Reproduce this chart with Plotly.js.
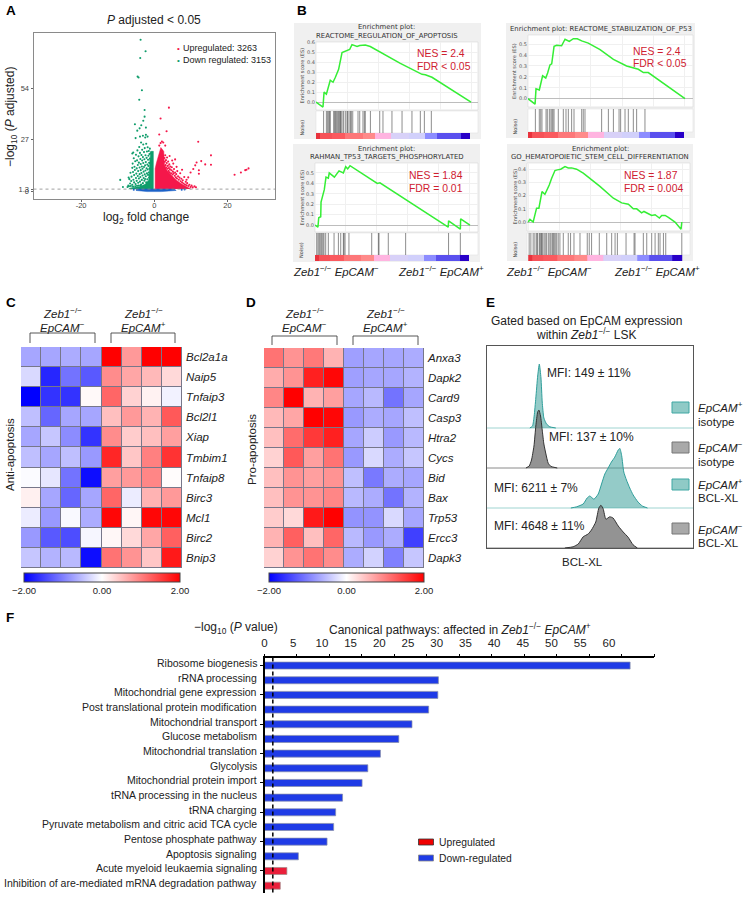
<!DOCTYPE html>
<html><head><meta charset="utf-8">
<script src="https://cdn.plot.ly/plotly-3.0.1.min.js"></script>
<style>html,body{margin:0;padding:0;background:#fff}#chart{width:748px;height:899px}</style>
</head><body><div id="chart"></div>
<script>
// ---------- Panel A data (log2FC, -log10 padj) ----------
const volcanoGreen = [[-3.73,79.2],[-2.37,73.2],[-3.83,69.7],[-4.55,60],[-4.28,59.5],[-3.37,52.9],[-4.1,47.9],[-2.64,42.6],[-2.64,39.1],[-3,37],[-5.28,35.1],[-3.55,34.6],[-4,33],[-4.64,31.8],[-2.28,33.4],[-2.28,29.6],[-3.1,29.1],[-1.82,28.7],[-5.1,27.9],[-3.9,28.7],[-2.46,28.2],[-5.74,20.4],[-6,19.9],[-9.3,6.1],[-8.56,2.4],[-7,7.3],
[-6.8,6.5],[-6.6,4.2],[-6.5,9.8],[-6.3,5.5],[-6.2,7.8],[-6,12.4],[-6,3.6],[-5.9,14.6],[-5.8,10.2],[-5.7,6.2],[-5.6,17.4],[-5.5,4.8],[-5.5,8.6],[-5.4,13],[-5.3,11.3],[-5.2,15.8],[-5.1,3.9],[-5,7.1],[-5,19.2],[-4.9,9.4],[-4.8,5.6],[-4.8,12.1],[-4.7,16.3],[-4.6,21.5],[-4.5,8.1],[-4.5,13.9],[-4.4,4.6],[-4.4,10.7],[-4.3,18.4],[-4.2,6.8],[-4.2,15.1],[-4.1,23.3],[-4,9.1],[-4,12.6],[-3.9,5.2],[-3.9,20.2],[-3.8,17],[-3.8,7.6],[-3.7,11.2],[-3.7,14.4],[-3.6,25.6],[-3.6,3.7],[-3.5,9.7],[-3.5,19.1],[-3.4,6.1],[-3.4,13.1],[-3.3,16.2],[-3.3,21.8],[-3.2,8.4],[-3.2,11.9],[-3.1,4.4],[-3.1,18],[-3,14.9],[-3,24.6],[-2.9,7.1],[-2.9,10.4],[-2.8,12.8],[-2.8,20.6],[-2.7,5.7],[-2.7,16.9],[-2.6,9],[-2.6,22.7],[-2.5,13.7],[-2.5,6.6],[-2.4,19],[-2.4,11],[-2.3,15.4],[-2.3,8],[-2.2,25],[-2.2,4.9],[-2.1,17.6],[-2.1,12.2],[-2,20.9],[-2,9.5],[-1.9,14.1],[-1.9,6.4],[-1.8,23.1],[-1.8,11.5],[-1.7,16.6],[-1.7,8.7],[-1.6,18.7],[-1.6,13.4],[-1.5,21.2],[-1.5,10],[-1.4,15],[-1.4,7.3],[-1.3,19.6],[-1.3,12],[-1.2,17.2],[-1.2,22.4],[-1.1,14.7],[-1,20],[-1,16.1],[-7.1,3.2],[-7.3,2.4],[-6.9,2.8],[-6.4,2.9],[-5.8,2.6],[-5.2,2.8],[-4.7,3],[-4.2,3.2],[-3.7,3.1]];
const volcanoRed = [[4.01,43.8],[1.73,38.1],[3.37,31.5],[1.37,29.8],[12.02,26],[2.09,26.1],[2.46,25.6],[1.73,25.3],[1.37,24],[3,24],[15.5,18.9],[15.5,14],[12.84,15.9],[11.57,15.2],[11.2,13.7],[13.93,14.2],[12.2,11.1],[12.2,9.3],[10.66,11.8],[9.93,10],[9.29,7.4],[8.83,6.2],[21.95,8.8],[23.68,10],[24.86,11.2],[25.2,11.4],[25.77,12.1],
[2.8,17.5],[2.9,15.6],[3,19],[3.1,13.8],[3.2,16.4],[3.3,12.6],[3.4,14.9],[3.5,17.8],[3.6,11.9],[3.7,13.4],[3.8,15.7],[3.9,10.8],[4,12.3],[4.1,14.2],[4.2,10.1],[4.3,11.6],[4.4,13.1],[4.6,9.6],[4.7,11.1],[4.8,12.7],[5,8.9],[5.1,10.4],[5.3,9.5],[5.4,11.8],[5.6,8.3],[5.7,10],[5.9,7.4],[6,9.1],[6.2,6.8],[6.3,10.7],[6.5,8],[6.7,6.2],[6.9,7.3],[7.1,9.6],[7.2,5.4],[7.4,6.7],[7.6,4.8],[7.8,5.9],[8,4.2],[8.2,7.6],[8.4,3.7],[8.6,5.1],[8.8,3.3],[9,4.4],[9.3,2.9],[9.6,3.6],[9.9,2.4],[10.2,3.1],[10.5,2.2],[11,2.7],[11.4,2.3],[5.2,14.6],[6.1,12.9],[7.6,11.4],[5.7,16.8],[4.9,16.2],[4.2,18.6]];
const volcanoGreenCore = [[-0.25,1.3],[-0.25,21],[-1,21],[-1.2,12],[-1.5,6],[-2.5,3.8],[-4,2.6],[-6.5,1.9],[-7,1.3]];
const volcanoRedCore = [[0.25,1.3],[0.25,12],[0.6,15],[1.2,19],[1.8,23],[2.6,21],[2.8,14],[3.5,11],[4.5,9],[6,6],[7.5,4],[9,2.5],[10,1.3]];
const volcanoBlueCore = [[-5,1.3],[5.5,1.3],[6,0.6],[2,0],[-2,0],[-5,0.6]];
const volcanoBlueExtra = [[7.5,1],[8.3,1.1],[-5.6,1]];

// ---------- Panel B data (rank % in ordered list, enrichment score) ----------
const es1Rank=[0,4.5,5.2,6.7,9.2,11,12.5,14.6,16.8,19.6,21.7,23.2,26.5,28.2,31.8,35,54.4,68.4,70.5,74.8,100];
const es1Val=[0,-0.05,0.10,0.08,0.22,0.20,0.25,0.33,0.50,0.52,0.53,0.58,0.56,0.57,0.575,0.56,0.39,0.28,0.275,0.25,0];
const es1Hits=[4.9,6.7,7.5,8.2,8.8,9.2,11.4,12,12.6,13.3,14,14.6,15.3,15.7,16.1,16.8,17.8,18.9,20,20.4,21.3,22.2,22.8,23.7,27.1,28.2,30.3,31.2,31.8,35.1,41.1,43.2,49,55.5,61.9,67.3,69.9,74.4];
const es2Rank=[0,4.5,5.1,7.2,9.3,11.3,12.5,14,15.1,16.6,18.3,21.4,23.6,26.3,28.9,31.4,34.2,38.4,45.9,54.4,62.8,67.1,70.3,73.5,76.6,100];
const es2Val=[0,-0.05,0.09,0.08,0.21,0.19,0.235,0.31,0.32,0.48,0.49,0.485,0.545,0.525,0.55,0.55,0.53,0.51,0.45,0.36,0.30,0.28,0.27,0.24,0.24,0];
const es2Hits=[4.7,7.2,8.1,8.9,11.5,12.3,13.6,14.6,15.3,15.9,16.6,19.3,22.5,24.2,25.7,27.8,29.3,34.2,35.2,36.3,46.9,51.2,54.4,58,59,61.8,63.9,67.1,69.2,74.5];
const es3Rank=[0,1.9,2.4,3.7,3.9,5.2,6,7.1,8.6,9.2,12.5,15.5,18.3,19.8,21.1,22.6,36.6,40.2,41.9,58.1,86,86.2,93.8,94,100];
const es3Val=[0,-0.02,0.07,0.08,0.22,0.28,0.34,0.46,0.45,0.50,0.46,0.52,0.50,0.56,0.54,0.57,0.44,0.40,0.405,0.25,-0.02,0.04,-0.04,0.06,0];
const es3Hits=[1.1,1.9,2.6,3.2,3.9,4.5,5.2,5.8,6.9,8.6,12.3,15.1,16.6,18.3,18.7,19.4,21.9,36.6,40.9,41.3,47.3,58.5,86.2,93.8];
const es4Rank=[0,1.1,3.2,4.3,5.4,6.9,8.9,10.8,11.9,13.6,15.1,17.3,18.8,21,23.8,25.9,28.1,31.3,35.6,46.4,55.1,60.5,64.8,68,70.2,73.4,74.9,77.8,79.9,82.1,84.9,86.4,88.6,90.7,95,98.9,99.4];
const es4Val=[0,0.02,0,0.045,0.105,0.105,0.23,0.21,0.235,0.28,0.33,0.39,0.395,0.40,0.42,0.41,0.41,0.40,0.37,0.27,0.18,0.145,0.135,0.10,0.10,0.07,0.08,0.06,0.05,0.055,0.03,0.05,0.05,0.035,0,-0.055,0];
const es4Hits=[0.6,1.7,3.2,4.3,5.4,6,7.1,7.6,8.2,8.6,9.3,10.2,11,11.9,13,14,14.7,15.6,16.2,16.8,17.5,18.4,19.4,20.5,22.7,25.9,27.4,29.6,33.5,38.2,39.5,41,46,50.8,54,56.2,57.7,63.3,68.5,69.1,74.5,76.7,79.9,82.1,84.2,85.3,87.5,89,99.4];
const rankEdges=[0,2.8,10,19,30,38.3,48.4,60,70.5,78,93.5,99.6];
const rankShade=[5,4.2,4,3.4,3,2,1.1,0.8,-1,-2,-3];
const esYTicks1=[0,0.1,0.2,0.3,0.4,0.5,0.6];
const esYTicks4=[0,0.1,0.2,0.3,0.4];

// ---------- Panels C, D data ----------
const genesC=['Bcl2a1a','Naip5','Tnfaip3','Bcl2l1','Xiap','Tmbim1','Tnfaip8','Birc3','Mcl1','Birc2','Bnip3'];
const heatC=[
[-0.7,-0.7,-0.65,-0.7,2,0.8,2,2],
[-0.3,-1.7,-1.1,-1.3,0.9,0.7,0.55,0.3],
[-2,-1.6,-1.6,0.05,1.2,0.35,0.1,-0.1],
[-0.5,-1.2,-0.7,-0.7,0.5,0.8,0.6,1.3],
[-0.7,-0.45,-0.9,-1.6,0.9,0.4,0.5,0.75],
[-0.5,-0.7,-0.5,-0.8,1.7,0.45,1,1.6],
[-0.03,-0.2,-1.1,-1.9,0.75,0.8,0.95,0.02],
[0.12,-0.7,-1.2,-0.7,1.2,-0.15,0.6,0.8],
[-0.15,-0.8,-0.05,-0.65,1.95,0.07,1.95,1.95],
[-0.8,-1.3,-1.4,-0.07,0.06,0.3,0.7,1.25],
[-0.45,-0.6,-0.55,-1.9,1.1,0.85,0.45,1.8]];
const genesD=['Anxa3','Dapk2','Card9','Casp3','Htra2','Cycs','Bid','Bax','Trp53','Ercc3','Dapk3'];
const heatD=[
[1.1,0.85,1.05,0.6,-0.75,-0.7,-0.7,-0.65],
[0.65,0.85,1.75,1.95,-0.75,-0.7,-0.7,-0.6],
[0.95,2,0.6,0.75,-0.7,-0.55,-1.1,-0.7],
[0.55,0.7,2,1.95,-0.8,-0.65,-0.7,-0.5],
[0.5,1.15,1.55,1.75,-0.7,-0.4,-0.8,-0.55],
[0.35,1.3,0.75,1.1,-0.8,-0.3,-0.65,-0.45],
[0.5,0.85,0.75,0.85,-0.5,-1.05,-0.65,-0.7],
[0.5,0.85,0.85,0.95,-0.55,-0.65,-1.1,-0.6],
[0.4,0.3,1.8,2,-0.85,-0.85,-0.3,-0.7],
[0.6,1.25,0.5,1.2,-0.55,-0.8,-0.65,-1.5],
[0.35,0.85,1.1,0.9,-0.65,-0.35,-1,-0.45]];
const heatScaleTicks=[-2,0,2];
const heatScaleLabels=['−2.00','0.00','2.00'];

// ---------- Panel E data (BCL-XL intensity %, density) ----------
const ridge1X=[20.8,22.1,22.9,23.7,24.6,25.4,26.2,26.8,27.6,28.9,30.5,33.4];
const ridge1D=[0,0.05,0.3,0.75,1.3,1.6,1.25,0.65,0.25,0.1,0.03,0];
const ridge2X=[18.9,20.5,21.6,22.8,23.7,24.6,25.2,26,26.8,27.6,28.6,29.7,31,34.1];
const ridge2D=[0,0.05,0.2,0.55,1.05,1.4,1.45,1.3,0.95,0.6,0.35,0.12,0.04,0];
const ridge3X=[40.7,43.5,46.7,48.6,49.9,51.9,54,55.6,57.2,58.8,60.4,62,63.7,64.5,65.4,66.4,67.7,69.3,70.9,73.3,75.4,77.9];
const ridge3D=[0,0.03,0.1,0.25,0.3,0.22,0.35,0.6,0.85,1,1.15,1.27,1.45,1.49,1.3,0.9,0.7,0.5,0.33,0.15,0.05,0];
const ridge4X=[37.8,41.8,44.3,46.7,49.1,50.7,52.8,54.3,55.3,56.4,57.7,59.6,61.2,63.7,66.1,68.5,70.9,73];
const ridge4D=[0,0.03,0.1,0.28,0.35,0.45,0.65,1,1.07,0.98,0.72,0.78,0.75,0.55,0.4,0.27,0.08,0];

// ---------- Panel F data ----------
const pathwaysDown=['Ribosome biogenesis','rRNA processing','Mitochondrial gene expression','Post translational protein modification','Mitochondrial transport','Glucose metabolism','Mitochondrial translation','Glycolysis','Mitochondrial protein import','tRNA processing in the nucleus','tRNA charging','Pyruvate metabolism and citric acid TCA cycle','Pentose phosphate pathway','Apoptosis signaling'];
const valuesDown=[63.7,30.3,30.2,28.6,25.7,23.4,20.2,18,17,13.6,12.4,12.05,10.9,5.9];
const pathwaysUp=['Acute myeloid leukaemia signaling','Inhibition of are-mediated mRNA degradation pathway'];
const valuesUp=[3.9,2.75];
const pThreshold=1.45;
const pTickVals=[0,5,10,15,20,25,30,35,40,45,50,55,60];
const pMinorMarks=[0,1,2,3,4,5,6,7,8,9,10,11,12];

// ---------- helpers ----------
const W=748,H=899,FONT='Liberation Sans',TXT='#222';
const px=x=>x/W, py=y=>1-y/H;
const dx=(a,b)=>[px(a),px(b)], dy=(a,b)=>[py(b),py(a)];
const traces=[],shapes=[],annotations=[],layout={};
function T(x,y,text,o={}){annotations.push({xref:'paper',yref:'paper',x:px(x),y:py(y),text,showarrow:false,xanchor:o.anchor||'left',yanchor:'middle',textangle:o.angle||0,borderpad:0,font:{family:o.family||FONT,size:o.size||11,color:o.color||TXT,weight:o.weight||400}});}
function rect(x0,y0,x1,y1,fill,line,w){shapes.push({type:'rect',xref:'paper',yref:'paper',layer:'below',x0:px(x0),x1:px(x1),y0:py(y0),y1:py(y1),fillcolor:fill,line:{color:line||fill,width:line?(w||1):0}});}
function bracket(x0,x1,yt,yb){shapes.push({type:'path',xref:'paper',yref:'paper',path:`M ${px(x0)} ${py(yb)} L ${px(x0)} ${py(yt)} L ${px(x1)} ${py(yt)} L ${px(x1)} ${py(yb)}`,line:{color:'#444',width:0.9}});}
const hidden={showgrid:false,zeroline:false,showticklabels:false,ticks:'',showline:false,fixedrange:true};
let ax=0;
function newAxes(xa,ya){ax++;const s=ax===1?'':ax;layout['xaxis'+s]=Object.assign({anchor:'y'+s},xa);layout['yaxis'+s]=Object.assign({anchor:'x'+s},ya);return {x:'x'+s,y:'y'+s,n:ax};}
const ZM='<i>Zeb1</i><sup>−/−</sup>', EM='<i>EpCAM</i><sup>−</sup>', EP='<i>EpCAM</i><sup>+</sup>';

// ---------- Panel A ----------
const A=newAxes({domain:dx(33.5,275),range:[-33,33],tickvals:[-20,0,20],ticktext:['-20','0','20'],ticks:'outside',ticklen:2,tickcolor:'#666',tickfont:{family:FONT,size:7.5,color:'#444'},ticklabelstandoff:-3,showgrid:false,zeroline:false,showline:true,mirror:true,linecolor:'#8a8a8a',linewidth:1},
 {domain:dy(32.5,198.5),range:[-3.6,83],tickvals:[0,1.3,27,54],ticktext:['0','1.3','27','54'],ticks:'outside',ticklen:2,tickcolor:'#666',tickfont:{family:FONT,size:7.5,color:'#444'},showgrid:false,zeroline:false,showline:true,mirror:true,linecolor:'#8a8a8a',linewidth:1});
const poly=(p,c)=>({x:p.map(d=>d[0]),y:p.map(d=>d[1]),mode:'lines',fill:'toself',fillcolor:c,line:{width:0.5,color:c},xaxis:A.x,yaxis:A.y,hoverinfo:'skip'});
const dots=(p,c)=>({x:p.map(d=>d[0]),y:p.map(d=>d[1]),mode:'markers',marker:{size:2.1,color:c,line:{width:0}},xaxis:A.x,yaxis:A.y,hoverinfo:'skip'});
const cGreen='#0f9d6b',cRed='#f5174a',cBlue='#1c62c8';
traces.push(poly(volcanoGreenCore,cGreen),dots(volcanoGreen,cGreen),poly(volcanoRedCore,cRed),dots(volcanoRed,cRed),poly(volcanoBlueCore,cBlue),dots(volcanoBlueExtra,cBlue));
shapes.push({type:'line',xref:'paper',yref:'y',x0:px(33.5),x1:px(275),y0:1.3,y1:1.3,line:{color:'#888',width:0.8,dash:'dot'}});
T(153.5,20,'<i>P</i> adjusted &lt; 0.05',{anchor:'center',size:12});
T(178,48.5,'•',{anchor:'center',size:8,color:cRed});T(178,60,'•',{anchor:'center',size:8,color:cGreen});
T(182,48.5,'Upregulated: 3263',{size:9});T(182,60,'Down regulated: 3153',{size:9});
T(146,218.5,'log<sub>2</sub> fold change',{anchor:'center',size:12});
T(11,117,'−log<sub>10</sub> (<i>P</i> adjusted)',{anchor:'center',angle:-90,size:12});
T(5,10,'A',{size:13.5,weight:700,color:'#000'});T(296,10,'B',{size:13.5,weight:700,color:'#000'});
T(5,302,'C',{size:13.5,weight:700,color:'#000'});T(245,302,'D',{size:13.5,weight:700,color:'#000'});
T(485,302,'E',{size:13.5,weight:700,color:'#000'});T(5,617,'F',{size:13.5,weight:700,color:'#000'});

// ---------- Panel B ----------
function gsea(g){
 rect(g.box[0],g.box[1],g.box[2],g.box[3],'#f0f0f0');
 rect(g.plot[0],g.plot[1],g.plot[2],g.plot[3],'#ffffff','#d8d8d8',0.6);
 rect(g.plot[0],g.rug[0],g.plot[2],g.rug[1],'#ffffff','#e2e2e2',0.6);
 const C=newAxes({domain:dx(g.plot[0],g.plot[2]),range:g.xr,showgrid:true,gridcolor:'#f0f0f0',gridwidth:1,dtick:20,zeroline:false,showticklabels:false,ticks:'',fixedrange:true},
  {domain:dy(g.plot[1],g.plot[3]),range:g.yr,tickvals:g.ticks,ticktext:g.ticks.map(v=>v.toFixed(1)),ticks:'',showgrid:true,gridcolor:'#f0f0f0',zeroline:true,zerolinecolor:'#bdbdbd',zerolinewidth:1,tickfont:{family:'DejaVu Sans',size:5,color:'#555'},ticklabelstandoff:0,fixedrange:true});
 traces.push({x:g.rank,y:g.es,mode:'lines',line:{color:'#35ee35',width:1.5},xaxis:C.x,yaxis:C.y,hoverinfo:'skip'});
 const R=newAxes(Object.assign({domain:dx(g.plot[0],g.plot[2]),range:g.xr},hidden),Object.assign({domain:dy(g.rug[0],g.rug[1]),range:[0,1]},hidden));
 const rx=[],ry=[];g.hits.forEach(h=>{rx.push(h,h,null);ry.push(0,1,null);});
 traces.push({x:rx,y:ry,mode:'lines',line:{color:'rgba(50,50,50,0.62)',width:0.9},xaxis:R.x,yaxis:R.y,hoverinfo:'skip'});
 const B=newAxes(Object.assign({domain:dx(g.plot[0],g.plot[2]),range:g.xr},hidden),Object.assign({domain:dy(g.rug[1],g.bar),range:[0,1]},hidden));
 traces.push({type:'heatmap',x:rankEdges,y:[0,1],z:[rankShade],zmin:-3,zmax:5,showscale:false,xaxis:B.x,yaxis:B.y,hoverinfo:'skip',
  colorscale:[[0,'#2800c8'],[0.125,'#5a50ee'],[0.25,'#8c8cff'],[0.375,'#c4c0fa'],[0.5,'#d4d4fb'],[0.625,'#ffb4e0'],[0.75,'#ff8a8a'],[0.875,'#fa5a5f'],[1,'#e8323c']]});
 g.title.forEach((t,i)=>T(g.tx,g.ty[i],t,{anchor:'center',family:'DejaVu Sans',size:6.9,color:'#333'}));
 T(g.yt,(g.plot[1]+g.plot[3])/2,'Enrichment score (ES)',{anchor:'center',angle:-90,family:'DejaVu Sans',size:5,color:'#444'});
 T(g.yt,(g.rug[0]+g.rug[1])/2+6,'Noise)',{anchor:'center',angle:-90,family:'DejaVu Sans',size:5,color:'#444'});
 T(g.nes[0],g.nes[1],g.nesT,{size:10.4,color:'#cf2030'});
 T(g.nes[0],g.nes[2],g.fdrT,{size:10.4,color:'#cf2030'});
}
gsea({box:[294,23,481,139],plot:[316,42,478,110],rug:[111,133],bar:139,xr:[0,104.5],yr:[-0.08,0.606],ticks:esYTicks1,rank:es1Rank,es:es1Val,hits:es1Hits,title:['Enrichment plot:','REACTOME_REGULATION_OF_APOPTOSIS'],tx:387,ty:[27.5,35.5],yt:301.5,nes:[416,53,66],nesT:'NES = 2.4',fdrT:'FDR &lt; 0.05'});
gsea({box:[506,23,695,138],plot:[528,35,693,107],rug:[109,132],bar:138,xr:[0,105.1],yr:[-0.076,0.584],ticks:esYTicks1.slice(0,6),rank:es2Rank,es:es2Val,hits:es2Hits,title:['Enrichment plot: REACTOME_STABILIZATION_OF_P53'],tx:601,ty:[28.5],yt:514,nes:[632,51,63.5],nesT:'NES = 2.4',fdrT:'FDR &lt; 0.05'});
gsea({box:[293,144,480,262],plot:[315,163,478,232],rug:[233,255],bar:261,xr:[0,105.2],yr:[-0.067,0.596],ticks:esYTicks1.slice(0,6),rank:es3Rank,es:es3Val,hits:es3Hits,title:['Enrichment plot:','RAHMAN_TP53_TARGETS_PHOSPHORYLATED'],tx:387,ty:[149,157],yt:301,nes:[408,175.5,188.5],nesT:'NES = 1.84',fdrT:'FDR = 0.01'});
gsea({box:[507,144,693,261],plot:[527,163,690,231],rug:[233,255],bar:261,xr:[-0.8,104.7],yr:[-0.068,0.447],ticks:esYTicks4,rank:es4Rank,es:es4Val,hits:es4Hits,title:['Enrichment plot:','GO_HEMATOPOIETIC_STEM_CELL_DIFFERENTIATION'],tx:600,ty:[149,157],yt:514.5,nes:[623,175.5,188.5],nesT:'NES = 1.87',fdrT:'FDR = 0.004'});
[[292,EM],[397,EP],[505,EM],[613,EP]].forEach(d=>T(d[0],271,ZM+' '+d[1],{size:11.4}));

// ---------- Panels C, D ----------
const rwb=[[0,'#0000ff'],[0.5,'#ffffff'],[1,'#ff0000']];
function heat(h){
 rect(h.box[0],h.box[1],h.box[2],h.box[3],'#77778a');
 const a=newAxes(Object.assign({domain:dx(h.box[0],h.box[2]),range:[-0.5,7.5]},hidden),
  {domain:dy(h.box[1],h.box[3]),range:[10.5,-0.5],side:'right',tickvals:h.genes.map((g,i)=>i),ticktext:h.genes,ticks:'',showgrid:false,zeroline:false,showline:false,tickfont:{family:FONT,size:11.5,style:'italic',color:TXT},ticklabelstandoff:3});
 traces.push({type:'heatmap',z:h.z,zmin:-2,zmax:2,colorscale:rwb,xgap:1,ygap:1,xaxis:a.x,yaxis:a.y,hoverinfo:'skip',
  colorbar:{orientation:'h',x:px(h.cb[0]),xanchor:'left',y:py(h.cb[2]),yanchor:'top',lenmode:'pixels',len:h.cb[1]-h.cb[0],thicknessmode:'pixels',thickness:9,xpad:0,ypad:0,outlinecolor:'#444',outlinewidth:1,tickvals:heatScaleTicks,ticktext:heatScaleLabels,ticks:'',tickfont:{family:FONT,size:9.5,color:TXT}}});
 bracket(h.br[0],h.br[1],h.br[4],h.br[5]);bracket(h.br[2],h.br[3],h.br[4],h.br[5]);
 T((h.br[0]+h.br[1])/2,313,ZM,{anchor:'center',size:11.5});T((h.br[0]+h.br[1])/2,326.5,EM,{anchor:'center',size:11.5});
 T((h.br[2]+h.br[3])/2,313,ZM,{anchor:'center',size:11.5});T((h.br[2]+h.br[3])/2,326.5,EP,{anchor:'center',size:11.5});
 T(h.lab[0],h.lab[1],h.lab[2],{anchor:'center',angle:-90,size:11.5});
}
heat({box:[21,347,182,568],genes:genesC,z:heatC,cb:[24,180,573],br:[30,95,111,175,333,343],lab:[10,455,'Anti-apoptosis']});
heat({box:[264,348,424,568],genes:genesD,z:heatD,cb:[269,424,573],br:[272,337,353,418,336,345],lab:[252,450,'Pro-apoptosis']});

// ---------- Panel E ----------
const E=newAxes({domain:dx(487,693),range:[0,100],showgrid:false,zeroline:false,showticklabels:false,ticks:'',showline:true,mirror:true,linecolor:'#555',linewidth:1,fixedrange:true},
 {domain:dy(346,548),range:[0,5.05],showgrid:false,zeroline:false,showticklabels:false,ticks:'',showline:true,mirror:true,linecolor:'#555',linewidth:1,fixedrange:true});
const teal={fill:'rgba(70,165,160,0.58)',line:'#2f9e9a',base:'#9fd4d1'},grey={fill:'rgba(105,105,105,0.72)',line:'#333333',base:'#8a8a8a'};
[[ridge1X,ridge1D,3,teal],[ridge2X,ridge2D,2,grey],[ridge3X,ridge3D,1,teal],[ridge4X,ridge4D,0,grey]].forEach(r=>{
 traces.push({x:[0,100],y:[r[2],r[2]],mode:'lines',line:{color:r[3].base,width:1},xaxis:E.x,yaxis:E.y,hoverinfo:'skip'});
 traces.push({x:r[0],y:r[1].map(v=>v+r[2]),mode:'lines',fill:'toself',fillcolor:r[3].fill,line:{color:r[3].line,width:1,shape:'spline',smoothing:0.5},xaxis:E.x,yaxis:E.y,hoverinfo:'skip'});
});
T(586,321,'Gated based on EpCAM expression',{anchor:'center',size:12});
T(586,334,'within '+ZM+' LSK',{anchor:'center',size:12});
T(546,372.5,'MFI: 149 ± 11%',{size:12});T(548,437,'MFI: 137 ± 10%',{size:12});
T(493,488,'MFI: 6211 ± 7%',{size:12});T(493,526,'MFI: 4648 ± 11%',{size:12});
[[402,teal,EP,'isotype',407,422],[442,grey,EM,'isotype',447,462],[479,teal,EP,'BCL-XL',484,498],[523,grey,EM,'BCL-XL',529,543]].forEach(s=>{
 rect(672,s[0],689,s[0]+11,s[1]===teal?'#8fcac6':'#a9a9a9',s[1]===teal?'#3fa7a3':'#777',1);
 T(697,s[4],s[2],{size:11.5});T(697,s[5],s[3],{size:11.5});
});
T(582,562,'BCL-XL',{anchor:'center',size:11.5});

// ---------- Panel F ----------
const pathways=pathwaysDown.concat(pathwaysUp);
const F=newAxes({domain:dx(264.5,654),range:[0,67.86],side:'top',tickvals:pTickVals,ticks:'',tickfont:{family:FONT,size:11.5,color:TXT},showgrid:false,zeroline:false,showline:true,linecolor:'#000',linewidth:1.2,ticklabelstandoff:5,fixedrange:true},
 {domain:dy(657.5,893),type:'category',categoryorder:'array',categoryarray:pathways,range:[15.5,-0.55],ticks:'outside',ticklen:3,tickcolor:'#000',tickwidth:1,showticklabels:false,showgrid:false,zeroline:false,showline:true,linecolor:'#000',linewidth:1.6,fixedrange:true});
layout.bargap=0.52;layout.barmode='overlay';
traces.push({type:'bar',orientation:'h',x:valuesDown,y:pathwaysDown,marker:{color:'#1f3be6',line:{color:'#8a8fa8',width:0.7}},xaxis:F.x,yaxis:F.y,hoverinfo:'skip'});
traces.push({type:'bar',orientation:'h',x:valuesUp,y:pathwaysUp,marker:{color:'#ea1f3a',line:{color:'#a08a8a',width:0.7}},xaxis:F.x,yaxis:F.y,hoverinfo:'skip'});
pathways.forEach(p=>annotations.push({xref:'paper',x:px(258),yref:F.y,y:p,yshift:2.7,text:p,showarrow:false,xanchor:'right',yanchor:'middle',borderpad:0,font:{family:FONT,size:10.5,color:TXT}}));
ax++;layout['xaxis'+ax]={overlaying:F.x,anchor:F.y,side:'top',domain:dx(264.5,654),range:[0,12],tickvals:pMinorMarks,ticks:'outside',ticklen:3,tickcolor:'#000',tickwidth:1,showticklabels:false,showgrid:false,zeroline:false,showline:false,fixedrange:true};
traces.push({x:pMinorMarks,y:pMinorMarks.map(()=>pathways[0]),mode:'markers',marker:{opacity:0,size:1},xaxis:'x'+ax,yaxis:F.y,hoverinfo:'skip'});
shapes.push({type:'line',xref:F.x,yref:'paper',x0:pThreshold,x1:pThreshold,y0:py(657.5),y1:py(893),line:{color:'#000',width:1.5,dash:'4px,3px'}});
T(236,628,'−log<sub>10</sub> (<i>P</i> value)',{anchor:'center',size:12});
T(328,629,'Canonical pathways: affected in '+ZM+' <i>EpCAM</i><sup>+</sup>',{size:12});
rect(418.5,839,433.5,845,'#f00000','#333',0.8);rect(418.5,855,433.5,861,'#1f3be6','#888',0.8);
T(438,842,'Upregulated',{size:10.3});T(438,858,'Down-regulated',{size:10.3});

Object.assign(layout,{width:W,height:H,margin:{l:0,r:0,t:0,b:0},autosize:false,showlegend:false,paper_bgcolor:'#ffffff',plot_bgcolor:'rgba(0,0,0,0)',font:{family:FONT,color:TXT},shapes,annotations});
Plotly.newPlot('chart',traces,layout,{staticPlot:true,displayModeBar:false});
</script></body></html>
